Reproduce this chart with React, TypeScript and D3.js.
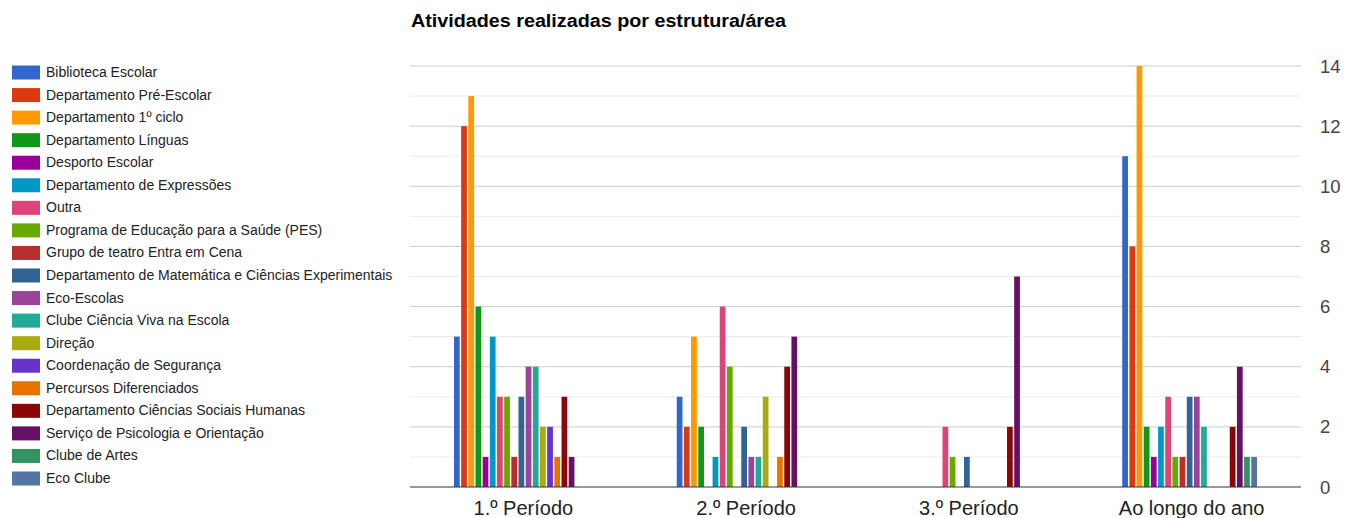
import React from "react";
import * as d3 from "d3";

const categories = ["1.º Período", "2.º Período", "3.º Período", "Ao longo do ano"];

const seriesNames = [
  "Biblioteca Escolar",
  "Departamento Pré-Escolar",
  "Departamento 1º ciclo",
  "Departamento Línguas",
  "Desporto Escolar",
  "Departamento de Expressões",
  "Outra",
  "Programa de Educação para a Saúde (PES)",
  "Grupo de teatro Entra em Cena",
  "Departamento de Matemática e Ciências Experimentais",
  "Eco-Escolas",
  "Clube Ciência Viva na Escola",
  "Direção",
  "Coordenação de Segurança",
  "Percursos Diferenciados",
  "Departamento Ciências Sociais Humanas",
  "Serviço de Psicologia e Orientação",
  "Clube de Artes",
  "Eco Clube",
];

const colors = [
  "#3366cc", "#dc3912", "#ff9900", "#109618", "#990099", "#0099c6", "#dd4477",
  "#66aa00", "#b82e2e", "#316395", "#994499", "#22aa99", "#aaaa11", "#6633cc",
  "#e67300", "#8b0707", "#651067", "#329262", "#5574a6",
];

// values per category, in series order
const periodo1 = [5, 12, 13, 6, 1, 5, 3, 3, 1, 3, 4, 4, 2, 2, 1, 3, 1, 0, 0];
const periodo2 = [3, 2, 5, 2, 0, 1, 6, 4, 0, 2, 1, 1, 3, 0, 1, 4, 5, 0, 0];
const periodo3 = [0, 0, 0, 0, 0, 0, 2, 1, 0, 1, 0, 0, 0, 0, 0, 2, 7, 0, 0];
const anoTodo = [11, 8, 14, 2, 1, 2, 3, 1, 1, 3, 3, 2, 0, 0, 0, 2, 4, 1, 1];

const yTicks = [0, 2, 4, 6, 8, 10, 12, 14];
const yMinorTicks = [1, 3, 5, 7, 9, 11, 13];

const title = "Atividades realizadas por estrutura/área";

export default function App() {
  const W = 1346;
  const H = 518;
  const left = 410;
  const right = 1301;
  const top = 66;
  const bottom = 487;
  const font = "Arial, 'Liberation Sans', sans-serif";

  const values = [periodo1, periodo2, periodo3, anoTodo];

  const x0 = d3
    .scaleBand<string>()
    .domain(categories)
    .range([left, right])
    .paddingInner(0.395)
    .paddingOuter(0.1975);
  const x1 = d3
    .scaleBand<number>()
    .domain(d3.range(seriesNames.length))
    .range([0, x0.bandwidth()])
    .paddingInner(0.2);
  const y = d3.scaleLinear().domain([0, 14]).range([bottom, top]);

  const legendY = d3
    .scalePoint<number>()
    .domain(d3.range(seriesNames.length))
    .range([72.5, 478.5]);

  return (
    <svg
      width={W}
      height={H}
      style={{ position: "absolute", left: 0, top: 0, background: "#fff" }}
      fontFamily={font}
    >
      <text
        x={411}
        y={27}
        fontSize={17.5}
        fontWeight="bold"
        fill="#000"
        textLength={375}
        lengthAdjust="spacingAndGlyphs"
      >
        {title}
      </text>

      {yMinorTicks.map((t) => (
        <line key={"m" + t} x1={left} x2={right} y1={y(t)} y2={y(t)} stroke="#ebebeb" strokeWidth={1} />
      ))}
      {yTicks.map((t) => (
        <g key={"t" + t}>
          {t !== 0 && (
            <line x1={left} x2={right} y1={y(t)} y2={y(t)} stroke="#cccccc" strokeWidth={1} />
          )}
          <text x={1320} y={y(t) + 6.5} fontSize={18.5} fill="#444">
            {t}
          </text>
        </g>
      ))}

      {categories.map((c, ci) => (
        <g key={c} transform={`translate(${x0(c)},0)`}>
          {values[ci].map((v, si) =>
            v > 0 ? (
              <rect
                key={si}
                x={x1(si)}
                y={y(v)}
                width={x1.bandwidth()}
                height={y(0) - y(v)}
                fill={colors[si]}
              />
            ) : null
          )}
          <text
            x={x0.bandwidth() / 2 + 2}
            y={515}
            fontSize={20}
            fill="#222"
            textAnchor="middle"
          >
            {c}
          </text>
        </g>
      ))}

      <line x1={left} x2={right} y1={y(0)} y2={y(0)} stroke="#333" strokeWidth={1} />

      {seriesNames.map((s, i) => (
        <g key={s} transform={`translate(0,${legendY(i)})`}>
          <rect x={12} y={-7} width={28} height={14} fill={colors[i]} />
          <text x={46} y={4.5} fontSize={14} fill="#222">
            {s}
          </text>
        </g>
      ))}
    </svg>
  );
}
